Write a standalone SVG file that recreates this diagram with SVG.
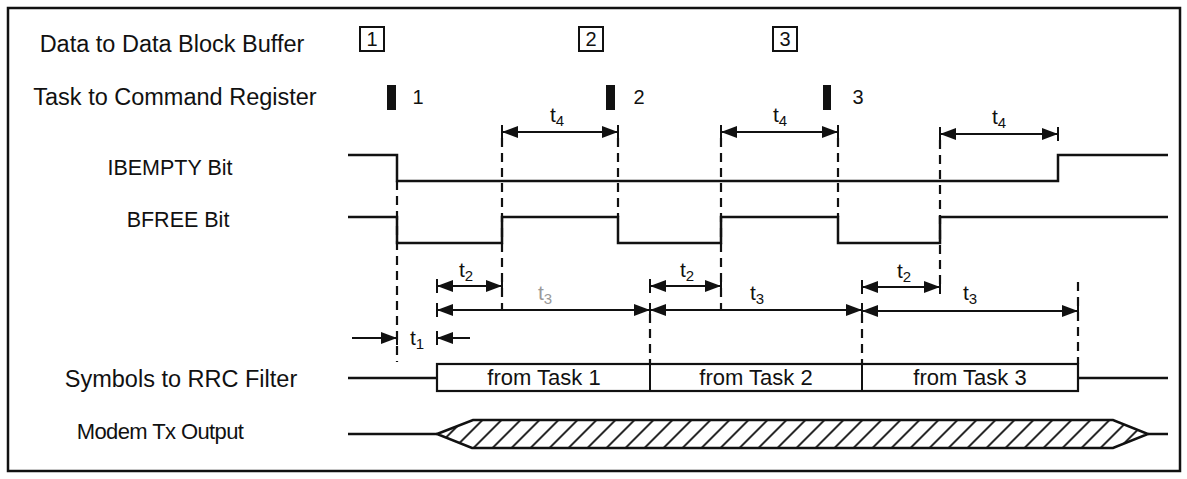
<svg xmlns="http://www.w3.org/2000/svg" width="1187" height="479" viewBox="0 0 1187 479">
<style>
.lbl{font-family:"Liberation Sans",Arial,sans-serif;font-size:22px;fill:#111;text-anchor:middle}
.num{font-family:"Liberation Sans",Arial,sans-serif;font-size:20px;fill:#111;text-anchor:middle}
.t{font-family:"Liberation Sans",Arial,sans-serif;font-size:21px;fill:#111}
.sub{font-size:15px}
.wave{fill:none;stroke:#111;stroke-width:2.5;stroke-linejoin:miter}
.dash{fill:none;stroke:#111;stroke-width:2.2;stroke-dasharray:9 6}
.dim{fill:none;stroke:#111;stroke-width:2}
.dbl{marker-start:url(#ah);marker-end:url(#ah)}
.one{marker-end:url(#ah)}
</style>
<defs>
<marker id="ah" viewBox="0 0 17 14" refX="16" refY="7" markerWidth="17" markerHeight="14" markerUnits="userSpaceOnUse" orient="auto-start-reverse">
<polygon points="0,1 16,7 0,13" fill="#111"/>
<line x1="16" y1="0" x2="16" y2="14" stroke="#111" stroke-width="2"/>
</marker>
<pattern id="hatch" patternUnits="userSpaceOnUse" width="19" height="10" patternTransform="skewX(-45)">
<line x1="9.5" y1="-1" x2="9.5" y2="11" stroke="#111" stroke-width="2.6"/>
</pattern>
</defs>
<rect x="8" y="8" width="1172" height="463" fill="#fff" stroke="#111" stroke-width="2.5"/>
<g id="labels">
<text class="lbl" x="172" y="52" style="font-size:23.5px">Data to Data Block Buffer</text>
<text class="lbl" x="175" y="105" style="font-size:23.5px">Task to Command Register</text>
<text class="lbl" x="170" y="175" style="font-size:21.5px">IBEMPTY Bit</text>
<text class="lbl" x="178" y="227" style="font-size:21.5px">BFREE Bit</text>
<text class="lbl" x="181" y="387" style="font-size:23.5px">Symbols to RRC Filter</text>
<text class="lbl" x="160" y="439" style="font-size:22px;letter-spacing:-0.6px">Modem Tx Output</text>
</g>
<g id="data-blocks">
<rect x="360" y="27" width="24" height="24" fill="none" stroke="#111" stroke-width="2"/>
<text class="num" x="372" y="46">1</text>
<rect x="579" y="27" width="24" height="24" fill="none" stroke="#111" stroke-width="2"/>
<text class="num" x="591" y="46">2</text>
<rect x="773" y="27" width="24" height="24" fill="none" stroke="#111" stroke-width="2"/>
<text class="num" x="785" y="46">3</text>
</g>
<g id="tasks">
<rect x="387" y="85" width="9" height="25" fill="#111"/>
<text class="num" x="418" y="104">1</text>
<rect x="606" y="85" width="9" height="25" fill="#111"/>
<text class="num" x="639" y="104">2</text>
<rect x="823" y="85" width="8" height="25" fill="#111"/>
<text class="num" x="858" y="104">3</text>
</g>
<g id="ibempty">
<path class="wave" d="M348,155 H397 V181 H1058 V155 H1168"/>
</g>
<g id="bfree">
<path class="wave" d="M348,217 H397 V243 H502 V217 H618 V243 H721 V217 H838 V243 H940 V217 H1168"/>
</g>
<g id="symbols">
<path class="wave" d="M348,378 H437 M1078,378 H1168"/>
<rect x="437" y="364" width="641" height="27" fill="none" stroke="#111" stroke-width="2.2"/>
<line x1="650" y1="364" x2="650" y2="391" stroke="#111" stroke-width="2"/>
<line x1="862" y1="364" x2="862" y2="391" stroke="#111" stroke-width="2"/>
<text class="lbl" x="544" y="385">from Task 1</text>
<text class="lbl" x="756" y="385">from Task 2</text>
<text class="lbl" x="970" y="385">from Task 3</text>
</g>
<g id="modem">
<path class="wave" d="M348,434 H437 M1148,434 H1168"/>
<polygon points="437,434 473,420 1113,420 1148,434 1113,448 472,448" fill="url(#hatch)" stroke="#111" stroke-width="2.5"/>
</g>
<g id="connectors">
<path class="dash" d="M397,181 V362"/>
<path class="dash" d="M502,138 V310"/>
<path class="dash" d="M618,138 V217"/>
<path class="dash" d="M721,138 V311"/>
<path class="dash" d="M838,138 V217"/>
<path class="dash" d="M940,140 V287"/>
<path class="dash" d="M650,314 V364"/>
<path class="dash" d="M862,314 V364"/>
<path class="dash" d="M1078,282 V364"/>
<line class="dim dbl" x1="502" y1="132" x2="618" y2="132"/>
<line class="dim dbl" x1="721" y1="132" x2="838" y2="132"/>
<line class="dim dbl" x1="940" y1="134" x2="1058" y2="134"/>
<line class="dim dbl" x1="437" y1="286" x2="502" y2="286"/>
<line class="dim dbl" x1="650" y1="286" x2="721" y2="286"/>
<line class="dim dbl" x1="862" y1="287" x2="940" y2="287"/>
<line class="dim dbl" x1="437" y1="310" x2="650" y2="310"/>
<line class="dim dbl" x1="650" y1="310" x2="862" y2="310"/>
<line class="dim dbl" x1="862" y1="311" x2="1078" y2="311"/>
<line class="dim one" x1="352" y1="338" x2="397" y2="338"/>
<line class="dim one" x1="470" y1="338" x2="437" y2="338"/>
</g>
<g id="timing-labels">
<text class="t" x="550" y="122">t<tspan class="sub" dy="4">4</tspan></text>
<text class="t" x="773" y="122">t<tspan class="sub" dy="4">4</tspan></text>
<text class="t" x="992" y="124">t<tspan class="sub" dy="4">4</tspan></text>
<text class="t" x="459" y="277">t<tspan class="sub" dy="4">2</tspan></text>
<text class="t" x="680" y="277">t<tspan class="sub" dy="4">2</tspan></text>
<text class="t" x="897" y="278">t<tspan class="sub" dy="4">2</tspan></text>
<text class="t" x="538" y="300" style="fill:#999">t<tspan class="sub" dy="4">3</tspan></text>
<text class="t" x="750" y="300">t<tspan class="sub" dy="4">3</tspan></text>
<text class="t" x="963" y="300">t<tspan class="sub" dy="4">3</tspan></text>
<text class="t" x="410" y="345">t<tspan class="sub" dy="4">1</tspan></text>
</g>
</svg>
